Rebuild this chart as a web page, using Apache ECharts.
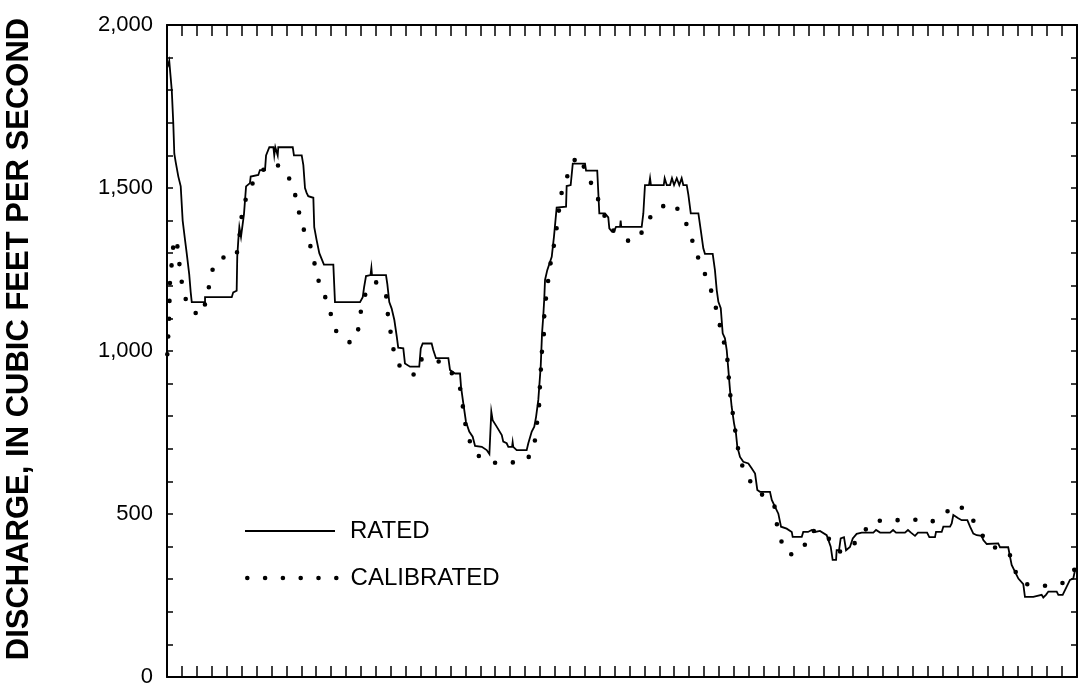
<!DOCTYPE html>
<html>
<head>
<meta charset="utf-8">
<style>
  html, body { margin: 0; padding: 0; background: #fff; }
  #chart { width: 1083px; height: 700px; }
</style>
<script src="https://cdn.jsdelivr.net/npm/echarts@6/dist/echarts.min.js"></script>
</head>
<body>
<div id="chart"></div>
<script>
// Discharge over a 61-day period: [day, cubic feet per second]
const rated = [
  [0.03,1870],[0.15,1890],[0.32,1800],[0.42,1700],[0.49,1605],[0.58,1580],[0.76,1535],[0.92,1505],
  [1.05,1400],[1.21,1340],[1.32,1300],[1.49,1235],[1.59,1180],[1.66,1150],[2.55,1150],[2.55,1165],
  [4.34,1165],[4.44,1180],[4.67,1185],[4.71,1290],[4.78,1340],[4.85,1380],[4.96,1350],[5.07,1350],
  [5.16,1420],[5.30,1505],[5.56,1515],[5.61,1535],[6.12,1540],[6.23,1555],[6.57,1555],[6.64,1600],
  [6.86,1625],[7.13,1625],[7.19,1600],[7.26,1625],[7.37,1625],[7.42,1600],[7.46,1625],[8.43,1625],
  [8.51,1600],[9.03,1600],[9.14,1570],[9.25,1500],[9.36,1485],[9.47,1475],[9.81,1470],[9.87,1380],
  [10.03,1340],[10.21,1300],[10.52,1265],[11.15,1265],[11.26,1150],[12.94,1150],[13.12,1165],[13.21,1195],
  [13.34,1230],[13.64,1233],[13.70,1255],[13.74,1233],[14.68,1233],[14.77,1205],[14.90,1150],[15.06,1130],
  [15.24,1095],[15.40,1045],[15.50,1010],[15.84,1008],[15.95,962],[16.29,952],[16.91,952],[17.01,1008],
  [17.14,1023],[17.74,1023],[17.85,1003],[18.03,978],[18.86,978],[18.97,942],[19.31,931],[19.64,931],
  [19.71,890],[19.86,840],[20.04,783],[20.26,753],[20.49,737],[20.65,709],[21.10,706],[21.43,696],
  [21.61,684],[21.72,684],[21.74,814],[21.83,788],[22.10,768],[22.44,742],[22.54,722],[22.77,717],
  [22.88,706],[23.13,706],[23.17,720],[23.21,706],[23.33,706],[23.44,696],[24.11,696],[24.22,717],
  [24.45,753],[24.62,768],[24.74,798],[24.89,850],[25.05,952],[25.14,1054],[25.22,1105],[25.29,1161],
  [25.34,1218],[25.49,1248],[25.79,1289],[25.94,1351],[26.12,1440],[26.75,1443],[26.79,1506],[27.06,1509],
  [27.20,1575],[28.02,1575],[28.09,1553],[28.84,1553],[28.98,1422],[29.36,1422],[29.58,1410],[29.65,1376],
  [29.81,1367],[29.96,1367],[30.10,1381],[30.37,1381],[30.41,1400],[30.45,1381],[31.82,1381],[31.93,1422],
  [32.04,1509],[32.31,1509],[32.38,1530],[32.44,1509],[33.30,1509],[33.36,1530],[33.50,1509],[33.72,1509],
  [33.85,1530],[33.99,1509],[34.17,1530],[34.34,1509],[34.50,1530],[34.61,1509],[34.84,1509],[34.95,1479],
  [35.11,1422],[35.62,1422],[35.78,1371],[35.95,1315],[36.06,1298],[36.58,1298],[36.73,1248],[36.85,1187],
  [36.96,1151],[37.12,1131],[37.25,1054],[37.40,1039],[37.52,1003],[37.63,942],[37.74,880],[37.85,829],
  [38.01,778],[38.14,747],[38.23,706],[38.41,675],[38.63,660],[38.97,655],[39.19,640],[39.42,624],
  [39.57,574],[39.75,568],[40.42,568],[40.54,543],[40.76,522],[40.98,501],[41.16,461],[41.54,455],
  [41.88,445],[41.94,430],[42.55,430],[42.65,445],[42.97,445],[43.22,451],[43.44,445],[43.77,448],
  [44.22,435],[44.33,440],[44.49,400],[44.62,359],[44.85,359],[44.89,389],[45.05,389],[45.16,425],
  [45.38,429],[45.52,389],[45.78,399],[45.97,425],[46.23,439],[46.57,443],[47.35,443],[47.53,451],
  [47.80,443],[48.47,443],[48.67,451],[48.87,443],[49.47,443],[49.67,451],[49.87,443],[50.14,433],
  [50.34,443],[50.95,443],[51.10,429],[51.48,429],[51.55,445],[51.93,445],[52.04,461],[52.49,461],
  [52.60,471],[52.71,497],[52.82,502],[53.04,487],[53.27,481],[53.65,481],[53.83,461],[54.05,440],
  [54.28,435],[54.61,433],[54.72,420],[54.95,408],[55.72,410],[55.84,398],[56.39,398],[56.51,369],
  [56.62,344],[56.84,323],[57.07,302],[57.40,285],[57.51,246],[58.07,246],[58.12,252],[58.63,252],
  [58.74,244],[58.92,252],[59.08,262],[59.64,262],[59.75,252],[60.04,252],[60.31,277],[60.53,298],
  [60.75,302],[60.87,328],[60.97,334]
];

const calibrated = [
  [0.02,990],[0.15,1104],[0.17,1162],[0.20,1216],[0.32,1269],[0.42,1322],[0.65,1345],[0.76,1289],
  [0.92,1240],[1.05,1187],[1.43,1136],[2.17,1107],[2.66,1154],[2.84,1206],[3.10,1258],[3.60,1287],
  [4.63,1287],[4.85,1343],[4.94,1396],[5.16,1450],[5.56,1501],[6.12,1543],[7.04,1578],[7.76,1562],
  [8.36,1516],[8.69,1463],[8.92,1409],[9.27,1358],[9.74,1308],[9.94,1255],[10.24,1202],[10.71,1155],
  [11.04,1104],[11.33,1062],[12.00,1030],[12.40,1025],[12.76,1049],[12.94,1105],[13.12,1158],[13.65,1205],
  [14.01,1211],[14.68,1177],[14.77,1123],[14.95,1070],[15.13,1015],[15.40,964],[16.18,928],[16.62,928],
  [17.07,975],[18.08,972],[18.97,942],[19.64,888],[19.82,834],[19.98,780],[20.26,727],[20.76,681],
  [21.83,657],[22.99,657],[24.06,664],[24.40,684],[24.72,735],[24.82,788],[24.96,841],[25.00,896],
  [25.07,950],[25.14,1003],[25.27,1056],[25.29,1110],[25.41,1165],[25.56,1220],[25.72,1271],[25.94,1325],
  [26.12,1378],[26.28,1434],[26.46,1487],[26.52,1504],[26.97,1550],[27.46,1599],[28.02,1560],[28.31,1527],
  [28.80,1478],[29.21,1427],[29.70,1376],[30.25,1359],[31.08,1333],[31.93,1368],[32.44,1414],[32.83,1437],
  [33.90,1455],[34.50,1419],[35.01,1371],[35.33,1320],[35.46,1302],[35.91,1253],[36.35,1204],[36.69,1153],
  [36.96,1099],[37.22,1046],[37.52,995],[37.63,942],[37.69,889],[37.85,834],[38.01,780],[38.26,705],
  [38.52,653],[39.03,604],[39.80,563],[40.71,528],[40.87,471],[41.14,420],[41.72,374],[42.65,392],
  [43.04,443],[43.44,449],[44.22,433],[45.00,384],[45.78,392],[46.63,442],[47.35,479],[48.51,480],
  [49.76,483],[50.88,481],[51.26,476],[52.04,499],[52.98,530],[53.83,499],[54.39,449],[54.68,433],
  [54.99,408],[56.02,387],[56.46,381],[56.80,328],[57.47,285],[58.45,282],[59.04,279],[60.08,289],
  [60.80,328],[60.97,336]
];

const dayRange = [0, 61];
const flowRange = [0, 2000];
const flowLabelStep = 500;
const seriesNames = ['RATED', 'CALIBRATED'];
const axisTitle = 'DISCHARGE, IN CUBIC FEET PER SECOND';

const FONT = '"Liberation Sans", Arial, Helvetica, sans-serif';
const INK = '#000';

// Legend glyphs: a solid rule and a row of six dots
const DOT_R = 2.3, DOT_STEP = 17.8, DOT_COUNT = 6;
function dotRowPath() {
  let d = '';
  for (let i = 0; i < DOT_COUNT; i++) {
    const cx = DOT_R + i * DOT_STEP;
    d += 'M' + (cx - DOT_R) + ',' + DOT_R + 'A' + DOT_R + ',' + DOT_R + ',0,1,1,' + (cx + DOT_R) + ',' + DOT_R +
         'A' + DOT_R + ',' + DOT_R + ',0,1,1,' + (cx - DOT_R) + ',' + DOT_R + 'Z';
  }
  return 'path://' + d;
}
const dotRowWidth = DOT_R * 2 + DOT_STEP * (DOT_COUNT - 1);

const xAxisBase = {
  type: 'value', min: dayRange[0], max: dayRange[1], interval: 1,
  axisLine: { show: true, onZero: false, lineStyle: { color: INK, width: 2 } },
  axisTick: { show: true, inside: true, length: 11, lineStyle: { color: INK, width: 1.5 } },
  axisLabel: { show: false },
  splitLine: { show: false }
};
const yAxisBase = {
  type: 'value', min: flowRange[0], max: flowRange[1], interval: 100,
  axisLine: { show: true, onZero: false, lineStyle: { color: INK, width: 2 } },
  axisTick: { show: true, inside: true, length: 6, lineStyle: { color: INK, width: 1.5 } },
  splitLine: { show: false }
};

const legendText = { color: INK, fontFamily: FONT, fontSize: 24 };

const chart = echarts.init(document.getElementById('chart'), null, { renderer: 'canvas' });
chart.setOption({
  animation: false,
  backgroundColor: '#fff',
  grid: { left: 167, right: 6, top: 25, bottom: 23, containLabel: false, outerBoundsMode: 'none' },
  xAxis: [
    Object.assign({}, xAxisBase, { position: 'bottom' }),
    Object.assign({}, xAxisBase, { position: 'top' })
  ],
  yAxis: [
    Object.assign({}, yAxisBase, {
      position: 'left',
      axisLabel: {
        show: true, margin: 14, color: INK, fontFamily: FONT, fontSize: 22,
        formatter: v => (v % flowLabelStep === 0 ? v.toLocaleString('en-US') : '')
      },
      name: axisTitle,
      nameLocation: 'middle',
      nameRotate: 90,
      nameGap: 132,
      nameTextStyle: { color: INK, fontFamily: FONT, fontSize: 31, fontWeight: 'bold', padding: [0, 0, 0, 24] }
    }),
    Object.assign({}, yAxisBase, { position: 'right', axisLabel: { show: false } })
  ],
  legend: [
    {
      left: 240, top: 514, orient: 'vertical',
      itemWidth: 90, itemHeight: 1.8,
      itemStyle: { borderWidth: 0 },
      textStyle: Object.assign({ padding: [0, 0, 0, 10] }, legendText),
      data: [{ name: seriesNames[0], icon: 'path://M0,0H90V1.8H0Z', itemStyle: { color: INK, borderWidth: 0 } }],
      selectedMode: false
    },
    {
      left: 240, top: 561, orient: 'vertical',
      itemWidth: dotRowWidth, itemHeight: DOT_R * 2,
      itemStyle: { borderWidth: 0 },
      textStyle: Object.assign({ padding: [0, 0, 0, 7] }, legendText),
      data: [{ name: seriesNames[1], icon: dotRowPath(), itemStyle: { color: INK, borderWidth: 0 } }],
      selectedMode: false
    }
  ],
  series: [
    {
      name: seriesNames[0], type: 'line', data: rated,
      xAxisIndex: 0, yAxisIndex: 0,
      showSymbol: false, symbol: 'none', smooth: false,
      lineStyle: { color: INK, width: 1.8, join: 'miter' },
      itemStyle: { color: INK },
      z: 3
    },
    {
      name: seriesNames[1], type: 'line', data: calibrated,
      xAxisIndex: 0, yAxisIndex: 0,
      showSymbol: false, symbol: 'none', smooth: false,
      lineStyle: { color: INK, width: 4.6, type: [0, DOT_STEP], cap: 'round' },
      itemStyle: { color: INK },
      z: 2
    }
  ]
});
</script>
</body>
</html>
